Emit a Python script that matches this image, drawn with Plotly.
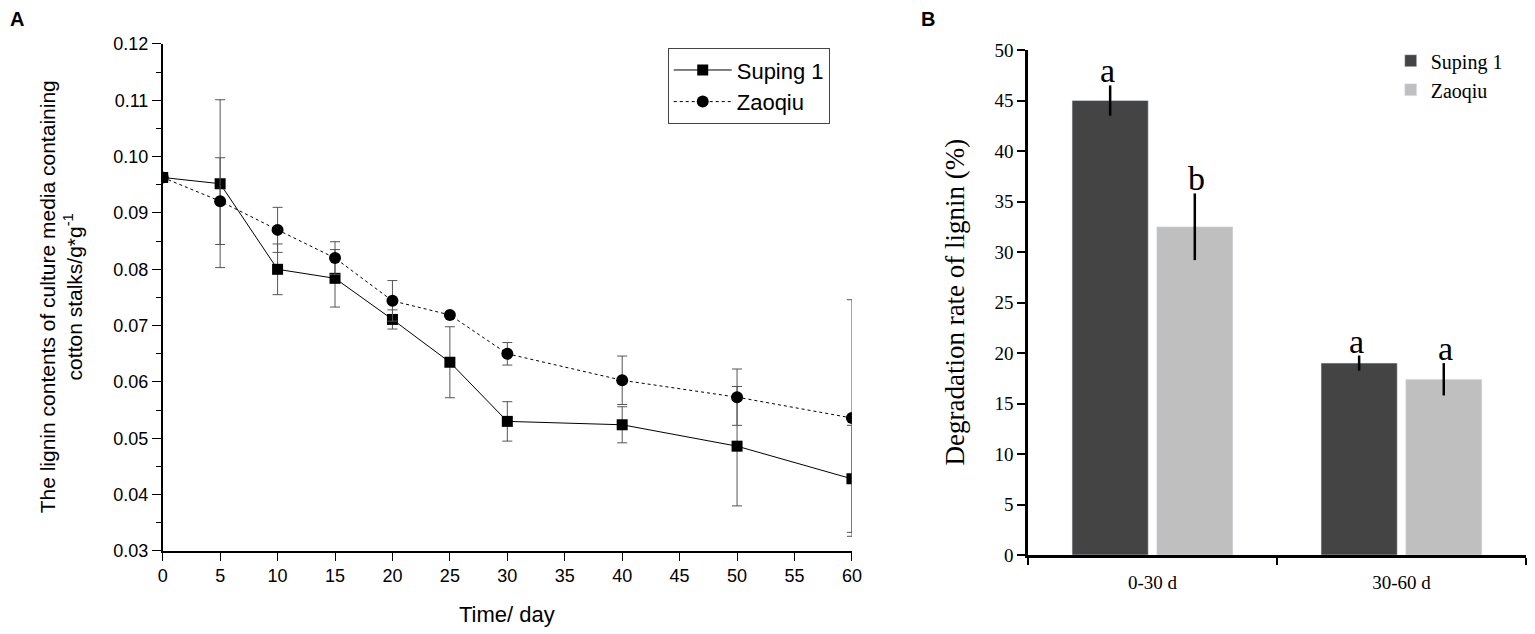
import plotly.graph_objects as go

# panel A: lignin content over time
days = [0, 5, 10, 15, 20, 25, 30, 40, 50, 60]
suping = [0.0963, 0.0952, 0.0800, 0.0784, 0.0711, 0.0635, 0.0530, 0.0524, 0.0486, 0.0428]
suping_err = [0, 0.0149, 0.0045, 0.0051, 0.0017, 0.0063, 0.0035, 0.0032, 0.0106, 0.0095]
zaoqiu = [0.0963, 0.0921, 0.0870, 0.0820, 0.0744, 0.0719, 0.0650, 0.0603, 0.0573, 0.0536]
zaoqiu_err = [0, 0.0077, 0.0040, 0.0029, 0.0036, 0, 0.0020, 0.0043, 0.0050, 0.0210]

# panel B: degradation rate
periods = ['0-30 d', '30-60 d']
rate_suping = [45.0, 19.0]
rate_suping_err = [1.5, 0.75]
rate_zaoqiu = [32.5, 17.4]
rate_zaoqiu_err = [3.3, 1.6]
sig_suping = ['a', 'a']
sig_zaoqiu = ['b', 'a']

sans = 'Liberation Sans, Arial'
serif = 'Liberation Serif, Times New Roman'

fig = go.Figure()

fig.add_trace(go.Scatter(x=days, y=suping, name='Suping 1', mode='lines+markers',
                         line=dict(color='black', width=1),
                         marker=dict(symbol='square', size=11, color='black'),
                         error_y=dict(type='data', array=suping_err, color='#555', thickness=1, width=5),
                         xaxis='x', yaxis='y', legend='legend'))
fig.add_trace(go.Scatter(x=days, y=zaoqiu, name='Zaoqiu', mode='lines+markers',
                         line=dict(color='black', width=1, dash='dot'),
                         marker=dict(symbol='circle', size=12, color='black'),
                         error_y=dict(type='data', array=zaoqiu_err, color='#555', thickness=1, width=5),
                         xaxis='x', yaxis='y', legend='legend'))

fig.add_trace(go.Bar(x=periods, y=rate_suping, name='Suping 1', marker_color='#444444',
                     error_y=dict(type='data', array=rate_suping_err, color='black', thickness=2.5, width=0),
                     xaxis='x2', yaxis='y2', legend='legend2'))
fig.add_trace(go.Bar(x=periods, y=rate_zaoqiu, name='Zaoqiu', marker_color='#bfbfbf',
                     error_y=dict(type='data', array=rate_zaoqiu_err, color='black', thickness=2.5, width=0),
                     xaxis='x2', yaxis='y2', legend='legend2'))

annotations = []
for vals, errs, sig, shift in [(rate_suping, rate_suping_err, sig_suping, -44.5),
                               (rate_zaoqiu, rate_zaoqiu_err, sig_zaoqiu, 44.5)]:
    for p, v, e, s in zip(periods, vals, errs, sig):
        annotations.append(dict(x=p, y=v + e, xref='x2', yref='y2', text=s, showarrow=False,
                                xshift=shift, yshift=-6, yanchor='bottom',
                                font=dict(family=serif, size=34, color='black')))

# panel letters and axis titles
annotations += [
    dict(x=0.005, y=0.99, text='<b>A</b>', xanchor='left', yanchor='top',
         font=dict(family=sans, size=20, color='black')),
    dict(x=0.599, y=0.99, text='<b>B</b>', xanchor='left', yanchor='top',
         font=dict(family=sans, size=20, color='black')),
    dict(x=0.0395, y=0.532, textangle=-90, xanchor='center', yanchor='middle',
         text='The lignin contents of culture media containing<br>cotton stalks/g*g<sup>-1</sup>',
         font=dict(family=sans, size=21, color='black')),
    dict(x=0.3305, y=0.030, text='Time/ day', xanchor='center', yanchor='middle',
         font=dict(family=sans, size=22, color='black')),
    dict(x=0.622, y=0.524, textangle=-90, xanchor='center', yanchor='middle',
         text='Degradation rate of lignin (%)',
         font=dict(family=serif, size=27, color='black')),
]
for a in annotations[-5:]:
    a.update(xref='paper', yref='paper', showarrow=False)

fig.update_layout(
    width=1535, height=634,
    margin=dict(l=0, r=0, t=0, b=0),
    plot_bgcolor='white', paper_bgcolor='white',
    barmode='group', bargap=0.32, bargroupgap=0.1,
    xaxis=dict(domain=[0.106, 0.555], anchor='y', range=[0, 60], dtick=5, automargin=False,
               showline=True, linecolor='black', linewidth=1.5, showgrid=False, zeroline=False,
               ticks='outside', ticklen=8, tickcolor='black',
               tickfont=dict(family=sans, size=18, color='black')),
    yaxis=dict(domain=[0.131, 0.9306], anchor='x', range=[0.03, 0.12], dtick=0.01, tickformat='.2f',
               automargin=False,
               showline=True, linecolor='black', linewidth=1.5, showgrid=False, zeroline=False,
               ticks='outside', ticklen=9, tickcolor='black',
               minor=dict(dtick=0.005, ticks='outside', ticklen=5, tickcolor='black'),
               tickfont=dict(family=sans, size=18, color='black')),
    xaxis2=dict(domain=[0.6697, 0.9941], anchor='y2', tickson='boundaries', automargin=False,
                showline=True, linecolor='black', linewidth=2.5, showgrid=False,
                ticks='outside', ticklen=7, tickwidth=2, tickcolor='black', ticklabelstandoff=8,
                tickfont=dict(family=serif, size=19, color='black')),
    yaxis2=dict(domain=[0.1246, 0.9211], anchor='x2', range=[0, 50], dtick=5, automargin=False,
                showline=True, linecolor='black', linewidth=2.5, showgrid=False, zeroline=False,
                ticks='outside', ticklen=8, tickwidth=2, tickcolor='black',
                tickfont=dict(family=serif, size=19, color='black')),
    legend=dict(x=0.435, y=0.924, xanchor='left', yanchor='top', bgcolor='white',
                bordercolor='#444', borderwidth=1, itemwidth=58, tracegroupgap=0,
                font=dict(family=sans, size=22, color='black')),
    legend2=dict(x=0.906, y=0.935, xanchor='left', yanchor='top', bgcolor='rgba(0,0,0,0)',
                 borderwidth=0, tracegroupgap=8,
                 font=dict(family=serif, size=20, color='black')),
    annotations=annotations,
)

# drop the page's default body margin so the figure sits at the top-left corner
fig.write_html('out.html', config={'displayModeBar': False},
               post_script="document.body.style.margin='0';")
